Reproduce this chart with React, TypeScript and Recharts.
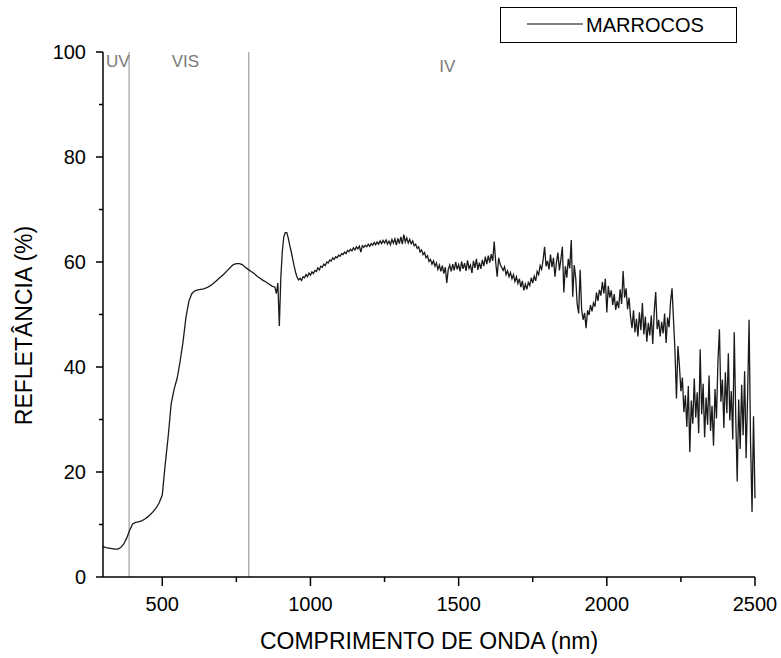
import {
  LineChart,
  Line,
  XAxis,
  YAxis,
  ReferenceLine,
  Legend,
} from "recharts";

const FONT = "'Liberation Sans', Arial, sans-serif";

// UV / visible part, smooth, read every 10 nm
const UV_VIS_START = 300;
const UV_VIS_STEP = 10;
const uvVisReflectance = [
  5.8, 5.6, 5.5, 5.4, 5.3, 5.3, 5.6, 6.3, 7.4, 8.9,
  10.1, 10.4, 10.5, 10.7, 11.0, 11.4, 11.9, 12.5, 13.2, 14.2,
  15.6, 21.5, 26.8, 33.0, 35.8, 37.8, 41.0, 44.8, 49.5, 52.6,
  54.0, 54.5, 54.7, 54.8, 54.9, 55.1, 55.4, 55.8, 56.3, 56.8,
  57.3, 57.8, 58.4, 59.0, 59.5, 59.7, 59.7, 59.5, 59.0, 58.6,
  58.2, 57.8, 57.3, 56.9, 56.5, 56.2, 55.8, 55.4,
];

// near / short-wave infrared, noisy, read every 5 nm from 880 nm
const NIR_START = 880;
const NIR_STEP = 5;
const nirReflectance = [
  55.2, 54.0, 56.0, 47.8, 57.0, 62.0, 64.8, 65.6, 65.6, 64.6, 63.2, 62.0, 60.6, 59.2, 58.0, 57.1, 56.6, 56.9, 56.5, 57.2,
  57.0, 57.6, 57.2, 57.9, 57.5, 58.1, 57.8, 58.4, 58.2, 58.9, 58.5, 59.2, 59.0, 59.6, 59.3, 60.0, 59.8, 60.4, 60.2, 60.8,
  60.5, 61.0, 60.8, 61.3, 61.1, 61.6, 61.4, 61.9, 61.6, 62.2, 62.0, 62.4, 62.1, 62.7, 62.3, 62.9, 62.5, 63.0, 61.9, 63.1,
  62.8, 63.2, 62.9, 63.4, 63.0, 63.5, 63.2, 63.7, 63.3, 63.8, 63.4, 64.0, 63.5, 64.1, 63.6, 64.2, 63.4, 64.0, 63.3, 64.3,
  63.6, 64.4, 63.2, 64.5, 63.5, 64.8, 63.4, 65.2, 63.8, 64.6, 63.6, 64.3, 63.5, 64.0, 63.1, 63.4, 62.6, 62.9, 61.9, 62.3,
  61.4, 61.8, 60.8, 61.2, 60.1, 60.5, 59.6, 60.2, 59.2, 59.8, 58.6, 59.4, 58.2, 59.3, 57.8, 59.0, 56.0, 58.6, 59.4, 58.2,
  59.6, 58.4, 60.0, 58.6, 59.5, 58.2, 60.1, 58.7, 59.8, 58.3, 60.3, 58.8, 59.4, 57.9, 60.2, 58.9, 60.6, 58.5, 59.9, 58.7,
  60.4, 59.2, 61.0, 59.6, 61.2, 59.9, 61.5, 60.2, 63.9, 60.0, 57.2, 60.8, 59.6, 59.0, 58.4, 59.1, 57.6, 58.3, 57.2, 58.0,
  56.8, 57.6, 56.3, 57.2, 55.9, 56.8, 55.2, 56.4, 54.6, 55.8, 54.8, 56.1, 55.5, 57.0, 56.0, 57.3, 56.4, 58.2, 57.6, 59.3,
  58.6, 60.4, 62.9, 59.2, 60.2, 58.6, 61.4, 59.0, 60.8, 57.2, 59.9, 61.8, 58.4, 60.5, 62.9, 54.2, 59.2, 57.0, 60.6, 58.8,
  64.2, 53.4, 59.4, 57.0, 52.0, 50.2, 58.5, 51.0, 49.0, 50.3, 47.4, 50.8, 49.9, 51.8, 50.6, 52.2, 51.5, 54.2, 52.6, 54.7,
  53.6, 56.2, 54.0, 56.8, 50.4, 55.4, 53.2, 54.6, 51.8, 53.9, 50.9, 52.6, 51.2, 54.8, 52.0, 58.3, 53.2, 55.0, 51.0, 53.2,
  49.6, 47.4, 50.8, 46.6, 49.2, 45.8, 50.4, 47.0, 52.2, 46.2, 49.6, 44.8, 48.4, 46.0, 49.8, 44.4, 50.6, 54.3, 47.2, 49.0,
  45.8, 48.6, 46.4, 50.2, 44.6, 49.4, 47.6, 52.4, 55.0, 49.0, 43.0, 34.0, 44.0, 40.2, 35.4, 38.0, 31.4, 34.6, 28.6, 36.4,
  23.8, 33.6, 29.2, 37.8, 30.4, 35.2, 27.4, 43.4, 31.0, 36.8, 26.6, 34.2, 29.0, 38.4, 27.8, 32.6, 25.0, 35.8, 30.2, 41.2,
  47.2, 33.4, 37.6, 28.4, 39.0, 31.2, 42.6, 29.8, 35.4, 26.2, 46.6, 30.6, 18.2, 33.8, 24.4, 36.6, 27.0, 39.2, 22.6, 34.4,
  49.0, 25.8, 12.4, 30.6, 15.0,
];

const xTicks = [500, 750, 1000, 1250, 1500, 1750, 2000, 2250, 2500];
const xLabelled = [500, 1000, 1500, 2000, 2500];
const yTicks = [0, 10, 20, 30, 40, 50, 60, 70, 80, 90, 100];
const yLabelled = [0, 20, 40, 60, 80, 100];

const bandEdges = [388, 792];
const bandNames = ["UV", "VIS", "IV"];
const bandCentres = [350, 578, 1462];

const data = [
  ...uvVisReflectance.map((r, i) => ({ nm: UV_VIS_START + i * UV_VIS_STEP, r })),
  ...nirReflectance.map((r, i) => ({ nm: NIR_START + i * NIR_STEP, r })),
];

function XTick({ x, y, payload }: any) {
  const major = xLabelled.includes(payload.value);
  return (
    <g>
      <line x1={x} x2={x} y1={y} y2={y + (major ? 9 : 5)} stroke="#000" strokeWidth={1.5} />
      {major && (
        <text x={x} y={y + 27} textAnchor="middle" dominantBaseline="central" fontSize={20} fontFamily={FONT} fill="#000">
          {payload.value}
        </text>
      )}
    </g>
  );
}

function YTick({ x, y, payload }: any) {
  const major = yLabelled.includes(payload.value);
  return (
    <g>
      <line x1={x - (major ? 7 : 4)} x2={x} y1={y} y2={y} stroke="#000" strokeWidth={1.5} />
      {major && (
        <text x={x - 17} y={y} textAnchor="end" dominantBaseline="central" fontSize={20} fontFamily={FONT} fill="#000">
          {payload.value}
        </text>
      )}
    </g>
  );
}

const xTitle = ({ viewBox }: any) => (
  <text
    x={viewBox.x + viewBox.width / 2}
    y={viewBox.y + 64}
    textAnchor="middle"
    dominantBaseline="central"
    fontSize={23}
    fontFamily={FONT}
    fill="#000"
  >
    COMPRIMENTO DE ONDA (nm)
  </text>
);

const yTitle = ({ viewBox }: any) => {
  const cx = 24;
  const cy = viewBox.y + viewBox.height / 2 + 11;
  return (
    <text
      x={cx}
      y={cy}
      transform={`rotate(-90 ${cx} ${cy})`}
      textAnchor="middle"
      dominantBaseline="central"
      fontSize={23}
      fontFamily={FONT}
      fill="#000"
    >
      REFLETÂNCIA (%)
    </text>
  );
};

const legendBox = () => (
  <div
    style={{
      position: "relative",
      width: 237,
      height: 36,
      border: "1px solid #000",
      boxSizing: "border-box",
      background: "#fff",
      fontFamily: FONT,
    }}
  >
    <svg width={235} height={34} style={{ position: "absolute", left: 0, top: 0 }}>
      <line x1={26} x2={82} y1={16} y2={16} stroke="#000" strokeWidth={1.2} />
    </svg>
    <span style={{ position: "absolute", left: 85, top: 0, lineHeight: "34px", fontSize: 20, color: "#000" }}>
      MARROCOS
    </span>
  </div>
);

export default function App() {
  return (
    <div style={{ position: "absolute", left: 0, top: 0, width: 781, height: 658, background: "#fff" }}>
      <LineChart width={781} height={658} data={data} margin={{ top: 52, right: 26, bottom: 0, left: 0 }}>
        <XAxis
          dataKey="nm"
          type="number"
          domain={[300, 2500]}
          ticks={xTicks}
          interval={0}
          height={81}
          axisLine={{ stroke: "#000", strokeWidth: 1.5 }}
          tickLine={false}
          tickSize={0}
          tickMargin={0}
          tick={(p: any) => <XTick {...p} />}
          label={xTitle}
        />
        <YAxis
          type="number"
          domain={[0, 100]}
          ticks={yTicks}
          interval={0}
          width={103}
          axisLine={{ stroke: "#000", strokeWidth: 1.5 }}
          tickLine={false}
          tickSize={0}
          tickMargin={0}
          tick={(p: any) => <YTick {...p} />}
          label={yTitle}
        />
        {bandEdges.map((e) => (
          <ReferenceLine key={e} x={e} stroke="#8a8a8a" strokeWidth={1} />
        ))}
        {bandNames.map((name, i) => (
          <ReferenceLine
            key={name}
            x={bandCentres[i]}
            stroke="none"
            label={{
              value: name,
              position: "insideTop",
              offset: name === "IV" ? 8 : 3,
              fill: "#7a7a7a",
              fontSize: 17,
              fontFamily: FONT,
            }}
          />
        ))}
        <Legend
          layout="vertical"
          align="center"
          verticalAlign="middle"
          wrapperStyle={{ left: 500, top: 7, width: 237, height: 36 }}
          content={legendBox}
        />
        <Line
          type="linear"
          dataKey="r"
          name="MARROCOS"
          stroke="#1a1a1a"
          strokeWidth={1.3}
          dot={false}
          isAnimationActive={false}
        />
      </LineChart>
    </div>
  );
}
